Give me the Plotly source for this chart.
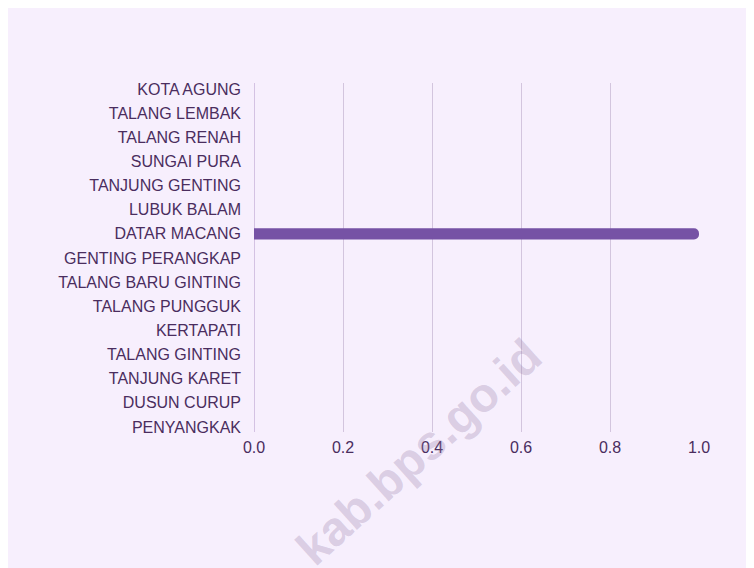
import plotly.graph_objects as go

categories = ["KOTA AGUNG", "TALANG LEMBAK", "TALANG RENAH", "SUNGAI PURA",
              "TANJUNG GENTING", "LUBUK BALAM", "DATAR MACANG", "GENTING PERANGKAP",
              "TALANG BARU GINTING", "TALANG PUNGGUK", "KERTAPATI", "TALANG GINTING",
              "TANJUNG KARET", "DUSUN CURUP", "PENYANGKAK"]
values = [0, 0, 0, 0, 0, 0, 1, 0, 0, 0, 0, 0, 0, 0, 0]
x_ticks = [0.0, 0.2, 0.4, 0.6, 0.8, 1.0]
x_tick_labels = ["0.0", "0.2", "0.4", "0.6", "0.8", "1.0"]

BG = "#F7EFFD"
TEXT = "#4A2D5E"
GRID = "#D3C5DE"
BAR = "#7652A5"

fig = go.Figure(go.Bar(
    y=categories, x=values, orientation="h",
    marker=dict(color=BAR, cornerradius=6, line=dict(width=0)),
    width=0.46,
))

fig.update_layout(
    width=754, height=568,
    margin=dict(l=246, r=63, t=75, b=144),
    paper_bgcolor=BG, plot_bgcolor=BG,
    font=dict(family="Liberation Sans, Arial, sans-serif", size=16, color=TEXT),
    showlegend=False,
    xaxis=dict(range=[0, 1.0], tickvals=x_ticks, ticktext=x_tick_labels,
               showgrid=True, gridcolor=GRID, gridwidth=1,
               zeroline=False, showline=False, ticks="", ticklabelstandoff=4,
               fixedrange=True),
    yaxis=dict(categoryorder="array", categoryarray=categories,
               range=[14.207, -0.249], showgrid=False, zeroline=False,
               showline=False, ticks="", ticklabelstandoff=12, fixedrange=True),
    shapes=[dict(type="line", xref="x", yref="paper", x0=0, x1=0, y0=0, y1=1,
                 line=dict(color="#C9B3DA", width=1.5), layer="below")],
    annotations=[dict(text="kab.bps.go.id", xref="paper", yref="paper",
                      x=(418 - 254) / 445, y=1 - (452 - 83) / 349,
                      xanchor="center", yanchor="middle",
                      showarrow=False, textangle=-42,
                      font=dict(family="Liberation Sans, Arial, sans-serif",
                                size=48, color="rgba(150,125,165,0.3)",
                                weight="bold"))],
)

fig.write_html("out.html")
